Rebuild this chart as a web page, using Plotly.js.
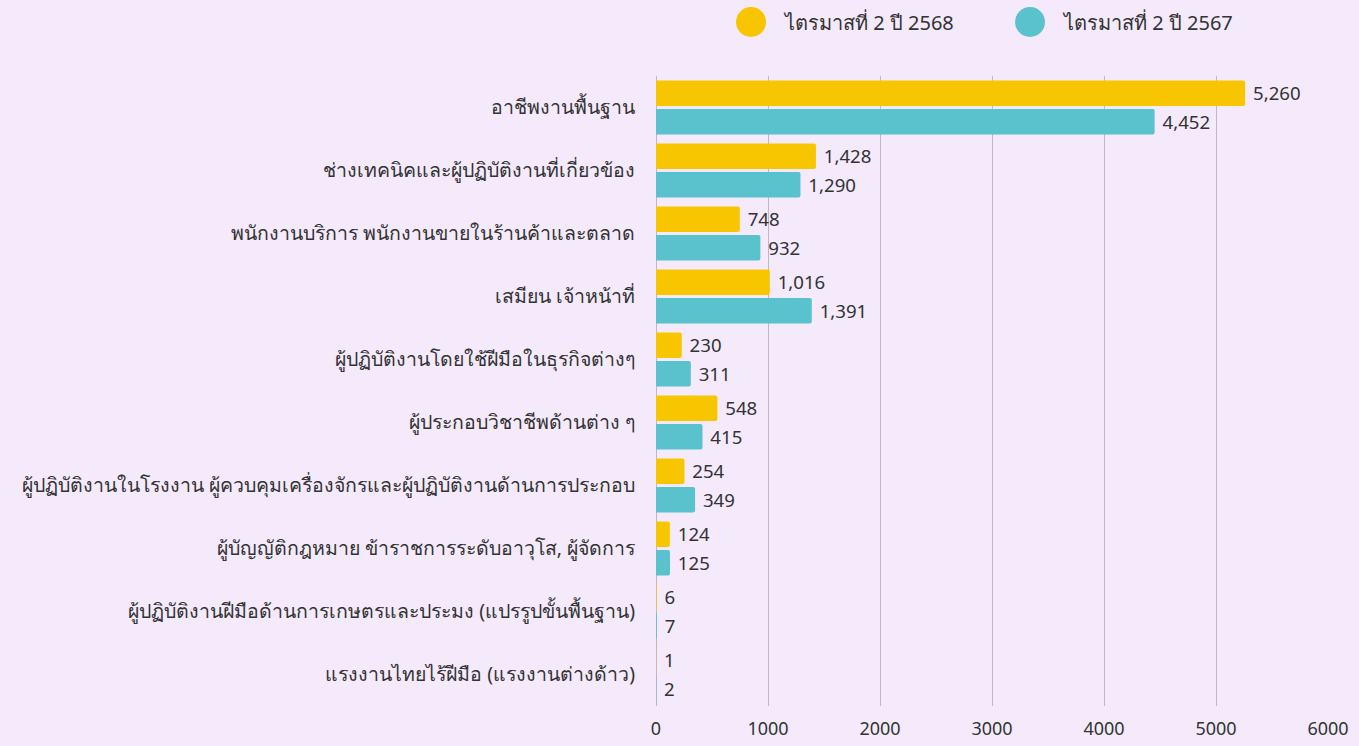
<!DOCTYPE html>
<html><head><meta charset="utf-8">
<script src="https://cdn.plot.ly/plotly-3.0.1.min.js"></script>
<style>html,body{margin:0;padding:0;background:#F4EAFB;}#chart{width:1359px;height:746px;}</style>
</head><body><div id="chart"></div>
<script>
const categories = [
  "อาชีพงานพื้นฐาน",
  "ช่างเทคนิคและผู้ปฏิบัติงานที่เกี่ยวข้อง",
  "พนักงานบริการ พนักงานขายในร้านค้าและตลาด",
  "เสมียน เจ้าหน้าที่",
  "ผู้ปฏิบัติงานโดยใช้ฝีมือในธุรกิจต่างๆ",
  "ผู้ประกอบวิชาชีพด้านต่าง ๆ",
  "ผู้ปฏิบัติงานในโรงงาน ผู้ควบคุมเครื่องจักรและผู้ปฏิบัติงานด้านการประกอบ",
  "ผู้บัญญัติกฎหมาย ข้าราชการระดับอาวุโส, ผู้จัดการ",
  "ผู้ปฏิบัติงานฝีมือด้านการเกษตรและประมง (แปรรูปขั้นพื้นฐาน)",
  "แรงงานไทยไร้ฝีมือ (แรงงานต่างด้าว)"
];
const seriesNames = ["ไตรมาสที่ 2 ปี 2568", "ไตรมาสที่ 2 ปี 2567"];
const q2_2568 = [5260, 1428, 748, 1016, 230, 548, 254, 124, 6, 1];
const q2_2567 = [4452, 1290, 932, 1391, 311, 415, 349, 125, 7, 2];
const xTicks = [0, 1000, 2000, 3000, 4000, 5000, 6000];

const colors = ["#F7C600", "#5AC2CC"];
const font = "Tahoma, 'Noto Sans', 'DejaVu Sans', sans-serif";
const seriesValues = [q2_2568, q2_2567];

const traces = seriesValues.map((vals, i) => ({
  type: "bar", orientation: "h",
  name: seriesNames[i],
  y: categories, x: vals,
  marker: {color: colors[i]},
  text: vals.map(v => " " + v.toLocaleString("en-US")),
  texttemplate: "%{text}",
  textposition: "outside",
  textfont: {size: 19, color: "#333333", family: font},
  cliponaxis: false,
  showlegend: false,
  hoverinfo: "x+y"
}));

const shapes = [], annotations = [];
const legX = [751, 1030];
seriesNames.forEach((n, i) => {
  shapes.push({type: "circle", xref: "paper", yref: "paper",
    xsizemode: "pixel", ysizemode: "pixel",
    xanchor: (legX[i] - 656) / 672, yanchor: 1 + (76 - 22) / 630,
    x0: -15, x1: 15, y0: -15, y1: 15,
    fillcolor: colors[i], line: {width: 0}});
  annotations.push({xref: "paper", yref: "paper",
    x: (legX[i] + 30 - 656) / 672, y: 1 + (76 - 22) / 630,
    xanchor: "left", yanchor: "middle", showarrow: false,
    text: n, font: {size: 20, color: "#333333", family: font}});
});

const layout = {
  width: 1359, height: 746,
  paper_bgcolor: "#F4EAFB", plot_bgcolor: "rgba(0,0,0,0)",
  margin: {l: 656, r: 31, t: 76, b: 40},
  barmode: "group", bargap: 0.1, bargroupgap: 0.1, barcornerradius: 2,
  font: {family: font, color: "#333333"},
  xaxis: {range: [0, 6000], tickvals: xTicks, ticktext: xTicks.map(String),
    showgrid: true, gridcolor: "#BDB8C2", gridwidth: 1, zeroline: true, zerolinecolor: "#BDB8C2",
    tickfont: {size: 18, color: "#333333"}, ticks: "", ticklabelstandoff: 10, showline: false, fixedrange: true},
  yaxis: {autorange: "reversed", tickfont: {size: 19.5, color: "#333333"}, ticks: "",
    ticklabelstandoff: 20, showgrid: false, showline: false, fixedrange: true},
  shapes: shapes, annotations: annotations,
  showlegend: false
};
Plotly.newPlot("chart", traces, layout, {displayModeBar: false, staticPlot: true});
</script></body></html>
